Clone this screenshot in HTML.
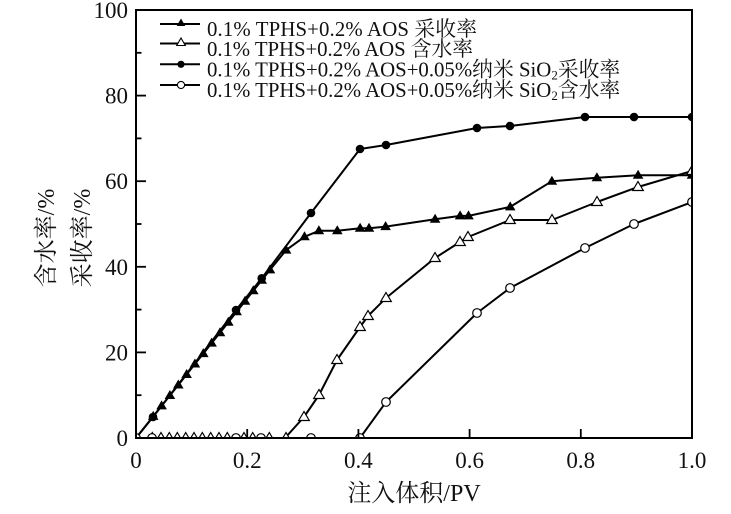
<!DOCTYPE html>
<html><head><meta charset="utf-8">
<style>
html,body{margin:0;padding:0;background:#fff;}
svg{display:block;}
text{font-family:"Liberation Serif","Noto Serif CJK SC",serif;fill:#111;}
</style></head>
<body>
<svg width="731" height="514" viewBox="0 0 731 514" xmlns="http://www.w3.org/2000/svg" xmlns:xlink="http://www.w3.org/1999/xlink">
<defs>
<clipPath id="pc"><rect x="136" y="10" width="556" height="428"/></clipPath>
<path id="tf" d="M0,-5.5 L5.3,3.5 L-5.3,3.5 Z" fill="#000"/>
<path id="to" d="M0,-5.5 L5.3,3.5 L-5.3,3.5 Z" fill="#fff" stroke="#000" stroke-width="1.2"/>
<circle id="cf" r="4.3" fill="#000"/>
<circle id="co" r="4.3" fill="#fff" stroke="#000" stroke-width="1.2"/>
<path id="ltf" d="M0,-4.5 L4.3,3 L-4.3,3 Z" fill="#000"/>
<path id="lto" d="M0,-4.5 L4.3,3 L-4.3,3 Z" fill="#fff" stroke="#000" stroke-width="1.1"/>
<circle id="lcf" r="3.6" fill="#000"/>
<circle id="lco" r="3.6" fill="#fff" stroke="#000" stroke-width="1.1"/>
</defs>

<g clip-path="url(#pc)" fill="none" stroke="#000" stroke-width="2" stroke-linejoin="round">
<!-- S1 filled triangles -->
<polyline points="136,438 153.2,416.4 161.6,405.9 169.9,395.5 178.3,385 186.6,374.5 194.9,364 203.3,353.6 211.6,343.1 220,332.7 228.3,322.2 236.6,311.7 245,301.3 253.3,290.8 261.7,280.3 270,269.9 286.1,250.1 304.5,236.8 318.9,230.8 337.3,230.8 360.1,228.3 369,228.3 385.6,226.6 435.1,219.3 460.1,215.9 468.5,215.9 510.2,206.9 551.9,181.2 596.9,177.8 638.1,175.2 692,175.2"/>
<!-- S2 open triangles -->
<polyline points="136,438 285,438 304,417 319,395 337,360 360,327 368,316 386,298 435,258 460,242 468,237 510,220 552,220 597,202 638,187 692,171"/>
<!-- S3 filled circles -->
<polyline points="136,438 153,417 236,310 261.7,278.3 311,213 360,149 386,145 477,128 510,126 585,117 634,117 692,117"/>
<!-- S4 open circles -->
<polyline points="136,438 360,438 386,402 477,313 510,288 585,248 634,224 692,202"/>
</g>

<g clip-path="url(#pc)">
<!-- S1 markers -->
<use href="#tf" x="136" y="438"/><use href="#tf" x="153.2" y="416.4"/><use href="#tf" x="161.6" y="405.9"/><use href="#tf" x="169.9" y="395.5"/><use href="#tf" x="178.3" y="385"/><use href="#tf" x="186.6" y="374.5"/><use href="#tf" x="194.9" y="364"/><use href="#tf" x="203.3" y="353.6"/><use href="#tf" x="211.6" y="343.1"/><use href="#tf" x="220" y="332.7"/><use href="#tf" x="228.3" y="322.2"/><use href="#tf" x="236.6" y="311.7"/><use href="#tf" x="245" y="301.3"/><use href="#tf" x="253.3" y="290.8"/><use href="#tf" x="261.7" y="280.3"/><use href="#tf" x="270" y="269.9"/><use href="#tf" x="286.1" y="250.1"/><use href="#tf" x="304.5" y="236.8"/><use href="#tf" x="318.9" y="230.8"/><use href="#tf" x="337.3" y="230.8"/><use href="#tf" x="360.1" y="228.3"/><use href="#tf" x="369" y="228.3"/><use href="#tf" x="385.6" y="226.6"/><use href="#tf" x="435.1" y="219.3"/><use href="#tf" x="460.1" y="215.9"/><use href="#tf" x="468.5" y="215.9"/><use href="#tf" x="510.2" y="206.9"/><use href="#tf" x="551.9" y="181.2"/><use href="#tf" x="596.9" y="177.8"/><use href="#tf" x="638.1" y="175.2"/><use href="#tf" x="692" y="175.2"/>
<!-- S3 markers -->
<use href="#cf" x="136" y="438"/><use href="#cf" x="153" y="417"/><use href="#cf" x="236" y="310"/><use href="#cf" x="261.7" y="278.3"/><use href="#cf" x="311" y="213"/><use href="#cf" x="360" y="149"/><use href="#cf" x="386" y="145"/><use href="#cf" x="477" y="128"/><use href="#cf" x="510" y="126"/><use href="#cf" x="585" y="117"/><use href="#cf" x="634" y="117"/><use href="#cf" x="692" y="117"/>
<!-- S2 markers -->
<use href="#to" x="136" y="438"/><use href="#to" x="152.3" y="438"/><use href="#to" x="161" y="438"/><use href="#to" x="169.3" y="438"/><use href="#to" x="177.3" y="438"/><use href="#to" x="185.7" y="438"/><use href="#to" x="194" y="438"/><use href="#to" x="202.3" y="438"/><use href="#to" x="210.7" y="438"/><use href="#to" x="219" y="438"/><use href="#to" x="227.3" y="438"/><use href="#to" x="244" y="438"/><use href="#to" x="252.7" y="438"/><use href="#to" x="269.3" y="438"/><use href="#to" x="286" y="438"/><use href="#to" x="304" y="417"/><use href="#to" x="319" y="395"/><use href="#to" x="337" y="360"/><use href="#to" x="360" y="327"/><use href="#to" x="368" y="316"/><use href="#to" x="386" y="298"/><use href="#to" x="435" y="258"/><use href="#to" x="460" y="242"/><use href="#to" x="468" y="237"/><use href="#to" x="510" y="220"/><use href="#to" x="552" y="220"/><use href="#to" x="597" y="202"/><use href="#to" x="638" y="187"/><use href="#to" x="692" y="171"/>
<!-- S4 markers -->
<use href="#co" x="136" y="438"/><use href="#co" x="152" y="438"/><use href="#co" x="236" y="438"/><use href="#co" x="261" y="438"/><use href="#co" x="311" y="438"/><use href="#co" x="360" y="438"/><use href="#co" x="386" y="402"/><use href="#co" x="477" y="313"/><use href="#co" x="510" y="288"/><use href="#co" x="585" y="248"/><use href="#co" x="634" y="224"/><use href="#co" x="692" y="202"/>
</g>

<!-- frame -->
<rect x="136" y="10" width="556" height="428" fill="none" stroke="#000" stroke-width="2"/>
<g stroke="#000" stroke-width="1.8">
<line x1="136" y1="352.4" x2="146" y2="352.4"/>
<line x1="136" y1="266.8" x2="146" y2="266.8"/>
<line x1="136" y1="181.2" x2="146" y2="181.2"/>
<line x1="136" y1="95.6" x2="146" y2="95.6"/>
<line x1="136" y1="395.2" x2="141.5" y2="395.2"/>
<line x1="136" y1="309.6" x2="141.5" y2="309.6"/>
<line x1="136" y1="224" x2="141.5" y2="224"/>
<line x1="136" y1="138.4" x2="141.5" y2="138.4"/>
<line x1="136" y1="52.8" x2="141.5" y2="52.8"/>
<line x1="247.2" y1="438" x2="247.2" y2="429"/>
<line x1="358.4" y1="438" x2="358.4" y2="429"/>
<line x1="469.6" y1="438" x2="469.6" y2="429"/>
<line x1="580.8" y1="438" x2="580.8" y2="429"/>
</g>

<!-- y tick labels -->
<g font-size="23" text-anchor="end">
<text x="128" y="446">0</text>
<text x="128" y="360.4">20</text>
<text x="128" y="274.8">40</text>
<text x="128" y="189.2">60</text>
<text x="128" y="103.6">80</text>
<text x="128" y="18">100</text>
</g>
<!-- x tick labels -->
<g font-size="23" text-anchor="middle">
<text x="136" y="468">0</text>
<text x="247.2" y="468">0.2</text>
<text x="358.4" y="468">0.4</text>
<text x="469.6" y="468">0.6</text>
<text x="580.8" y="468">0.8</text>
<text x="692" y="468">1.0</text>
</g>

<!-- axis titles -->
<text x="414" y="501" font-size="24" text-anchor="middle">注入体积/PV</text>
<text transform="translate(54,238) rotate(-90)" font-size="24" text-anchor="middle">含水率/%</text>
<text transform="translate(90,238) rotate(-90)" font-size="24" text-anchor="middle">采收率/%</text>

<!-- legend -->
<g stroke="#000" stroke-width="2">
<line x1="160" y1="24" x2="200" y2="24"/>
<line x1="160" y1="43.5" x2="200" y2="43.5"/>
<line x1="160" y1="64.3" x2="200" y2="64.3"/>
<line x1="160" y1="85" x2="200" y2="85"/>
</g>
<use href="#ltf" x="181" y="23"/>
<use href="#lto" x="181" y="42.5"/>
<use href="#lcf" x="181" y="64.3"/>
<use href="#lco" x="181" y="85"/>
<g font-size="20.8">
<text x="207" y="36" textLength="270">0.1% TPHS+0.2% AOS 采收率</text>
<text x="207" y="56" textLength="266">0.1% TPHS+0.2% AOS 含水率</text>
<text x="207" y="76.5">0.1% TPHS+0.2% AOS+0.05%纳米 SiO<tspan font-size="13" dy="3">2</tspan><tspan dy="-3">采收率</tspan></text>
<text x="207" y="97">0.1% TPHS+0.2% AOS+0.05%纳米 SiO<tspan font-size="13" dy="3">2</tspan><tspan dy="-3">含水率</tspan></text>
</g>
</svg>
</body></html>
